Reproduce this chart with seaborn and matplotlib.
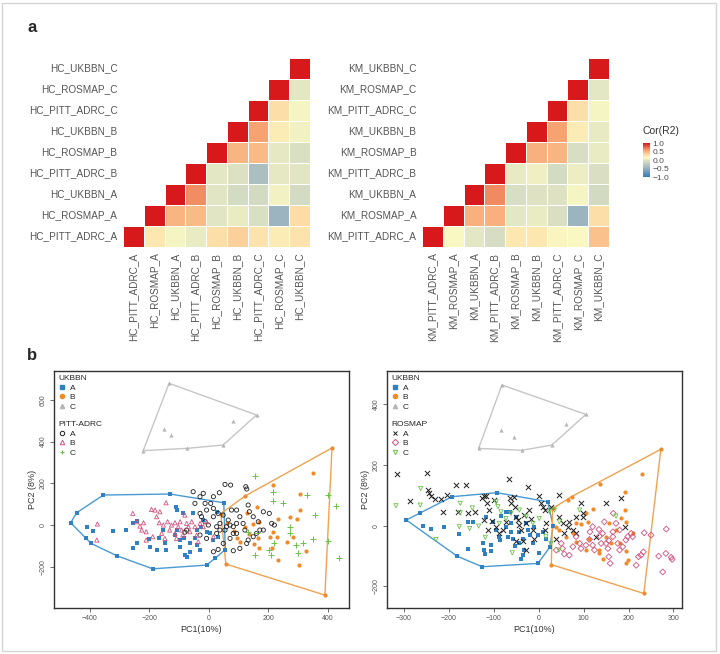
import numpy as np
import pandas as pd
import matplotlib
matplotlib.use("Agg")
import matplotlib.pyplot as plt
import seaborn as sns
from matplotlib.colors import LinearSegmentedColormap
from matplotlib.lines import Line2D
from matplotlib.patches import Rectangle

sns.set_theme(style="white")
plt.rcParams["font.family"] = ["Liberation Sans", "DejaVu Sans"]

# =========================
# a. correlation matrices
# =========================

hc_names = ["HC_PITT_ADRC_A", "HC_ROSMAP_A", "HC_UKBBN_A",
            "HC_PITT_ADRC_B", "HC_ROSMAP_B", "HC_UKBBN_B",
            "HC_PITT_ADRC_C", "HC_ROSMAP_C", "HC_UKBBN_C"]
km_names = [n.replace("HC_", "KM_") for n in hc_names]

# upper triangle, row i holds cor with columns i+1 .. 8
hc_rows = [
    [0.25, 0.12, 0.05, 0.30, 0.38, 0.28, 0.22, 0.28],
    [0.50, 0.48, 0.00, 0.05, -0.05, -0.45, 0.32],
    [0.65, 0.00, -0.08, -0.10, 0.10, -0.08],
    [0.02, -0.03, -0.35, 0.03, 0.00],
    [0.50, 0.48, 0.03, -0.05],
    [0.58, 0.22, 0.10],
    [0.30, 0.12],
    [0.02],
]
km_rows = [
    [0.15, 0.02, -0.07, 0.25, 0.25, 0.17, 0.15, 0.45],
    [0.52, 0.52, 0.02, 0.05, -0.04, -0.45, 0.30],
    [0.66, -0.06, -0.02, -0.02, 0.12, -0.10],
    [0.04, 0.08, -0.08, 0.07, -0.04],
    [0.52, 0.50, -0.06, 0.05],
    [0.58, 0.22, 0.04],
    [0.30, 0.12],
    [0.02],
]

# =========================
# b. PCA points  (PC1, PC2)
# =========================

# left panel: UKBBN + PITT-ADRC
hc_ukbbn_a = [(-465, 11), (-445, 59), (-355, 144), (-131, 149), (50, 107), (55, -118),
              (22, -158), (-8, -192), (-189, -210), (-310, -147),
              (-409, -8), (-391, -29), (-321, -29), (-279, -24), (-254, 8), (-243, 21),
              (-413, -64), (-396, -88), (-254, -112), (-243, -88), (-200, -69), (-198, -104),
              (-176, -120), (-167, -64), (-153, -24), (-148, -88), (-144, -120), (-114, -48),
              (-112, 88), (-109, 72), (-106, -24), (-97, -72), (-97, -104), (-86, 56),
              (-84, -64), (-81, -144), (-73, -152), (-64, -88), (-62, -128), (-53, 56),
              (-47, -64), (-41, -24), (-39, -96), (-30, -120), (-25, -8), (-19, 24),
              (-8, -32), (3, -40), (15, -72), (26, 64), (31, -56)]
hc_ukbbn_b = [(414, 370), (390, -336), (57, -187), (40, 55), (121, 139), (349, 251),
              (216, 192), (306, 149), (161, 88), (306, 72), (296, 29), (232, 29),
              (168, 16), (148, 5), (214, -32), (228, -58), (205, -56), (261, -80),
              (282, -56), (165, -61), (104, -80), (168, -110), (326, -123), (302, -192),
              (232, -168), (127, 58), (211, -110), (85, -30), (120, -10), (60, 10),
              (95, -60), (150, -90), (135, -45), (272, 40)]
hc_ukbbn_c = [(-134, 680), (160, 528), (48, 384), (-73, 368), (-221, 357),
              (-150, 459), (-129, 430), (80, 499)]
pitt_a = [(-53, 160), (-19, 152), (35, 155), (54, 195), (73, 192), (124, 184), (127, 173),
          (-30, 136), (15, 136), (6, 104), (-8, 72), (-30, 56), (-25, 40), (-13, 16),
          (-2, 0), (15, 40), (31, 56), (37, 8), (48, 48), (65, 24), (71, 0), (76, 72),
          (93, 72), (104, 40), (115, 8), (132, 96), (136, 64), (149, 40), (166, 16),
          (183, 64), (203, 56), (211, 8), (220, 0), (171, -24), (149, -56), (127, -88),
          (104, -112), (82, -123), (93, -40), (71, -64), (48, -88), (31, -117), (15, -128),
          (-8, -64), (-30, -48), (-75, -24), (-81, -34), (26, -40), (54, -24), (82, -8),
          (121, -24), (160, -40), (183, -24), (132, -72), (82, -40), (37, -24), (59, -8),
          (93, 8), (26, -8), (15, 80), (-13, 104), (-47, 104)]
pitt_b = [(-375, 5), (-377, -72), (-256, 56), (-243, 16), (-232, -5), (-220, 11),
          (-226, -24), (-211, -32), (-211, -72), (-193, 75), (-181, 72), (-165, 64),
          (-176, 40), (-144, 107), (-167, 11), (-153, 0), (-139, 16), (-132, -24),
          (-126, 0), (-114, 11), (-114, -40), (-109, -64), (-103, -8), (-97, 16),
          (-92, -24), (-88, -48), (-81, 48), (-75, 8), (-69, -8), (-64, -32), (-58, 16),
          (-47, -8), (-41, -48), (-36, -80), (-30, 8), (-19, -8), (-8, 16), (15, -56),
          (-159, -40), (-189, -56), (-148, -64)]
pitt_c = [(155, 235), (214, 160), (214, 117), (248, 107), (331, 146), (358, 48),
          (401, 146), (427, 91), (351, -69), (401, -75), (438, -160), (315, -88),
          (292, -96), (272, -8), (274, -37), (218, -88), (210, -144), (203, -120),
          (155, -144), (160, -40), (132, -32), (300, -133)]

# right panel: UKBBN + ROSMAP
km_ukbbn_a = [(-295, 19), (-264, 41), (-193, 96), (-93, 109), (20, 79), (32, 0),
              (25, -70), (-2, -124), (-126, -135), (-182, -100),
              (-257, -2), (-241, -11), (-210, -3), (-158, 13), (-147, 11), (-158, -75),
              (-125, -58), (-123, -80), (-119, -93), (-106, -64), (-89, -36), (-87, -47),
              (-84, 32), (-73, 46), (-65, 46), (-62, 8), (-62, -20), (-58, -42), (-50, 30),
              (-45, -20), (-43, -58), (-36, -42), (-32, -80), (-28, 8), (-24, -14),
              (-19, -31), (-13, -58), (-10, -3), (-2, -31), (1, -89), (9, -20), (16, -42),
              (-73, -3), (-95, -14), (-102, 13), (-117, 30), (-177, -27), (-68, -36),
              (-54, -67), (-39, -109), (-36, -97), (-106, -82)]
km_ukbbn_b = [(272, 252), (234, -223), (28, -128), (31, 57), (73, 96),
              (230, 170), (137, 137), (191, 112), (191, 52), (183, 27), (120, 54),
              (105, 41), (94, 5), (83, 8), (109, 13), (157, 8), (194, 13), (180, -58),
              (194, -82), (198, -113), (194, -124), (161, -58), (135, -91), (105, -80),
              (83, -53), (61, -36), (76, -25), (46, -14), (39, -3), (113, -42), (150, -36),
              (172, -14), (135, -80), (142, -109), (209, -25), (66, 85)]
km_ukbbn_c = [(-82, 464), (105, 367), (29, 266), (-37, 249), (-134, 255),
              (-84, 315), (-56, 293), (61, 337)]
rosmap_a = [(-315, 170), (-286, 82), (-249, 175), (-247, 118), (-245, 107), (-241, 99),
            (-230, 87), (-217, 87), (-214, 46), (-205, 101), (-184, 134), (-180, 46),
            (-163, 134), (-158, 43), (-143, 46), (-127, 90), (-121, 98), (-117, 98),
            (-116, 74), (-110, 52), (-121, 19), (-112, -14), (-104, 16), (-99, 85),
            (-95, -3), (-88, -25), (-80, -14), (-73, 13), (-67, 153), (-65, 90), (-62, 74),
            (-56, 96), (-54, 63), (-50, 30), (-47, 19), (-43, 2), (-39, -14), (-36, -49),
            (-32, 35), (-28, 8), (-24, 129), (-21, 52), (-17, 24), (-13, -14), (-10, -42),
            (1, 98), (5, 74), (9, 63), (13, 52), (16, 8), (13, -14), (27, 63), (45, 103),
            (46, 30), (39, -42), (53, 8), (65, -3), (68, 13), (76, -14), (82, 30), (94, 74),
            (98, 41), (99, 30), (128, -36), (150, 76), (183, 90), (191, -5), (57, -25),
            (83, -25), (-28, -80), (-50, -49)]
rosmap_b = [(39, -80), (50, -58), (57, -93), (68, -97), (76, -69), (91, -58), (94, -75),
            (105, -64), (114, -20), (120, -64), (124, -80), (135, -34), (139, -58),
            (146, 13), (150, -58), (154, -75), (156, -102), (159, -124), (165, -20),
            (165, -36), (166, 41), (172, 8), (176, -58), (180, -80), (187, -69), (194, -47),
            (198, -36), (206, -25), (209, -36), (217, -130), (222, -102), (228, -97),
            (233, -86), (235, -23), (250, -31), (267, -100), (276, -152), (283, -91),
            (284, -11), (295, -104), (297, -111), (120, -3), (134, -12), (83, -36),
            (53, -75), (113, -45), (142, -25), (156, -49), (180, -14)]
rosmap_c = [(-318, 66), (-263, 123), (-229, -45), (-175, 74), (-175, 43), (-177, -3),
            (-154, -9), (-148, 59), (-134, -1), (-119, -38), (-95, 79), (-91, 63),
            (-88, 8), (-84, 46), (-73, 24), (-62, 41), (-59, -89), (-43, 52), (-28, 30),
            (-13, 8), (1, 24), (16, -36), (24, 46), (27, -58), (35, 52), (45, -80),
            (46, 13), (91, 52), (172, 32), (-264, 68)]

# =========================
# colours
# =========================

cor_cmap = LinearSegmentedColormap.from_list("cor", [
    (0.0, "#2c7bb6"), (0.25, "#93afc0"), (0.5, "#e1e4c3"), (0.575, "#faf8c3"),
    (0.675, "#fdd7a0"), (0.8, "#f5a06e"), (1.0, "#d7191c")])

BLUE, ORANGE, GREY = "#2f80c4", "#f08a2a", "#b5b5b5"
HULL = {"A": "#4a9ad2", "B": "#f0a250", "C": "#c6c6c6"}
BLACK, PINK, GREEN = "#1e1e1e", "#d4507a", "#6cc14b"


def to_matrix(rows):
    n = len(rows) + 1
    m = np.full((n, n), np.nan)
    for i in range(n):
        m[i, i] = 1.0
        for k, v in enumerate(rows[i] if i < len(rows) else []):
            m[i, i + 1 + k] = v
    return m


def convex_hull(pts):
    pts = sorted(set(pts))

    def cross(o, a, b):
        return (a[0] - o[0]) * (b[1] - o[1]) - (a[1] - o[1]) * (b[0] - o[0])

    lower, upper = [], []
    for p in pts:
        while len(lower) >= 2 and cross(lower[-2], lower[-1], p) <= 0:
            lower.pop()
        lower.append(p)
    for p in reversed(pts):
        while len(upper) >= 2 and cross(upper[-2], upper[-1], p) <= 0:
            upper.pop()
        upper.append(p)
    h = lower[:-1] + upper[:-1]
    return np.array(h + [h[0]])


fig = plt.figure(figsize=(7.2, 6.54), dpi=100)
fig.patches.append(Rectangle((0.003, 0.004), 0.992, 0.992, transform=fig.transFigure,
                             fill=False, ec="#d4d4d4", lw=1))

ax1 = fig.add_axes([0.1708, 0.6223, 0.2597, 0.289])
ax2 = fig.add_axes([0.5861, 0.6223, 0.2597, 0.289])
cax = fig.add_axes([0.893, 0.729, 0.0097, 0.052])

sns.heatmap(pd.DataFrame(to_matrix(hc_rows), index=hc_names, columns=hc_names),
            ax=ax1, cmap=cor_cmap, vmin=-1, vmax=1, cbar=False,
            linewidths=0.6, linecolor="white")
sns.heatmap(pd.DataFrame(to_matrix(km_rows), index=km_names, columns=km_names),
            ax=ax2, cmap=cor_cmap, vmin=-1, vmax=1, cbar_ax=cax,
            linewidths=0.6, linecolor="white")

for ax in (ax1, ax2):
    ax.invert_yaxis()
    ax.tick_params(length=0, labelsize=7.2, colors="#555555", pad=4)
    plt.setp(ax.get_xticklabels(), rotation=90)
    plt.setp(ax.get_yticklabels(), rotation=0)
    ax.set_xlabel("")
    ax.set_ylabel("")

cax.set_yticks([-1, -0.5, 0, 0.5, 1])
cax.set_yticklabels(["\u22121.0", "\u22120.5", "0.0", "0.5", "1.0"])
cax.tick_params(length=0, labelsize=6, colors="#4d4d4d", pad=2)
for s in cax.spines.values():
    s.set_visible(False)
fig.text(0.893, 1 - 131 / 654, "Cor(R2)", fontsize=7.5, color="#333333", va="center")

fig.text(27 / 720, 1 - 28 / 654, "a", fontsize=12, fontweight="bold", va="center")
fig.text(27 / 720, 1 - 355 / 654, "b", fontsize=12, fontweight="bold", va="center")


def pca_panel(rect, ukbbn, other, other_name, other_styles, xlim, ylim, xticks, yticks):
    ax = fig.add_axes(rect)
    groups = ["A", "B", "C"]
    u_style = [("s", BLUE, True), ("o", ORANGE, True), ("^", GREY, True)]
    for g, pts in zip(groups, ukbbn):
        h = convex_hull(pts)
        ax.plot(h[:, 0], h[:, 1], color=HULL[g], lw=1, zorder=1)
    for pts, (mk, col, filled) in zip(ukbbn, u_style):
        arr = np.array(pts)
        sns.scatterplot(x=arr[:, 0], y=arr[:, 1], ax=ax, marker=mk, s=9,
                        facecolor=col, edgecolor=col, linewidth=0, zorder=3)
    for pts, (mk, col, filled) in zip(other, other_styles):
        arr = np.array(pts)
        if filled:
            sns.scatterplot(x=arr[:, 0], y=arr[:, 1], ax=ax, marker=mk, s=14,
                            color=col, linewidth=0.7, zorder=3)
        else:
            sns.scatterplot(x=arr[:, 0], y=arr[:, 1], ax=ax, marker=mk, s=9,
                            facecolor="none", edgecolor=col, linewidth=0.6, zorder=3)
    ax.set_xlim(xlim)
    ax.set_ylim(ylim)
    ax.set_xticks(xticks)
    ax.set_yticks(yticks)
    ax.tick_params(labelsize=5, colors="#555555", length=3, width=0.6,
                   bottom=True, left=True, pad=2)
    plt.setp(ax.get_yticklabels(), rotation=90, va="center")
    for s in ax.spines.values():
        s.set_color("#333333")
        s.set_linewidth(1)
    ax.set_xlabel("PC1(10%)", fontsize=6.5, color="#333333", labelpad=2)
    ax.set_ylabel("PC2 (8%)", fontsize=6.5, color="#333333", labelpad=2)

    h1 = [Line2D([], [], ls="", marker=mk, ms=3, color=c) for mk, c, f in u_style]
    leg1 = ax.legend(h1, groups, title="UKBBN", loc="upper left", bbox_to_anchor=(0, 1),
                     frameon=False, fontsize=6, title_fontsize=6, alignment="left",
                     handletextpad=0.4, labelspacing=0.2, handlelength=1,
                     borderaxespad=0.3, borderpad=0.2)
    ax.add_artist(leg1)
    h2 = [Line2D([], [], ls="", marker=mk, ms=3.2, color=c,
                 markerfacecolor=(c if f else "none"), markeredgewidth=0.7)
          for mk, c, f in other_styles]
    ax.legend(h2, groups, title=other_name, loc="upper left", bbox_to_anchor=(0, 0.805),
              frameon=False, fontsize=6, title_fontsize=6, alignment="left",
              handletextpad=0.4, labelspacing=0.2, handlelength=1,
              borderaxespad=0.3, borderpad=0.2)
    return ax


pca_panel([0.075, 0.0703, 0.4097, 0.3624],
          [hc_ukbbn_a, hc_ukbbn_b, hc_ukbbn_c],
          [pitt_a, pitt_b, pitt_c], "PITT-ADRC",
          [("o", BLACK, False), ("^", PINK, False), ("+", GREEN, True)],
          (-521, 471), (-398, 739), [-400, -200, 0, 200, 400], [-200, 0, 200, 400, 600])

pca_panel([0.5375, 0.0703, 0.4097, 0.3624],
          [km_ukbbn_a, km_ukbbn_b, km_ukbbn_c],
          [rosmap_a, rosmap_b, rosmap_c], "ROSMAP",
          [("x", BLACK, True), ("D", PINK, False), ("v", GREEN, False)],
          (-338, 319), (-271, 510), [-300, -200, -100, 0, 100, 200, 300], [-200, 0, 200, 400])

plt.savefig("out.png", dpi=100)
